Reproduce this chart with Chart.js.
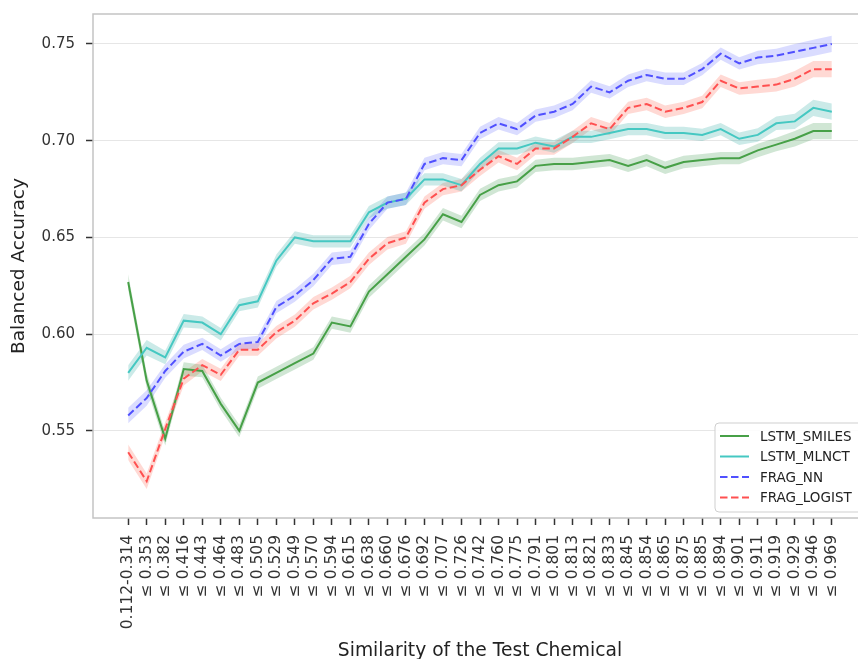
<!DOCTYPE html>
<html>
<head>
<meta charset="utf-8">
<script src="https://cdn.jsdelivr.net/npm/chart.js@4/dist/chart.umd.min.js"></script>
<style>
  html, body { margin: 0; padding: 0; background: #ffffff; overflow: hidden; }
  #wrap { width: 858px; height: 659px; overflow: hidden; }
</style>
</head>
<body>
<div id="wrap"><canvas id="chart" width="868" height="659"></canvas></div>
<script>
// Similarity bins of the test chemical (x-axis tick labels)
const similarityBins = [
  '0.112-0.314', '≤ 0.353', '≤ 0.382', '≤ 0.416', '≤ 0.443', '≤ 0.464', '≤ 0.483',
  '≤ 0.505', '≤ 0.529', '≤ 0.549', '≤ 0.570', '≤ 0.594', '≤ 0.615', '≤ 0.638',
  '≤ 0.660', '≤ 0.676', '≤ 0.692', '≤ 0.707', '≤ 0.726', '≤ 0.742', '≤ 0.760',
  '≤ 0.775', '≤ 0.791', '≤ 0.801', '≤ 0.813', '≤ 0.821', '≤ 0.833', '≤ 0.845',
  '≤ 0.854', '≤ 0.865', '≤ 0.875', '≤ 0.885', '≤ 0.894', '≤ 0.901', '≤ 0.911',
  '≤ 0.919', '≤ 0.929', '≤ 0.946', '≤ 0.969'
];

// Balanced accuracy per bin
const lstmSmiles = [
  0.627, 0.576, 0.546, 0.582, 0.581, 0.564, 0.550, 0.575, 0.580, 0.585,
  0.590, 0.606, 0.604, 0.622, 0.631, 0.640, 0.649, 0.662, 0.658, 0.672,
  0.677, 0.679, 0.687, 0.688, 0.688, 0.689, 0.690, 0.687, 0.690, 0.686,
  0.689, 0.690, 0.691, 0.691, 0.695, 0.698, 0.701, 0.705, 0.705
];
const lstmMlnct = [
  0.580, 0.593, 0.588, 0.607, 0.606, 0.600, 0.615, 0.617, 0.638, 0.650,
  0.648, 0.648, 0.648, 0.663, 0.668, 0.670, 0.680, 0.680, 0.677, 0.688,
  0.696, 0.696, 0.699, 0.697, 0.702, 0.702, 0.704, 0.706, 0.706, 0.704,
  0.704, 0.703, 0.706, 0.701, 0.703, 0.709, 0.710, 0.717, 0.715
];
const fragNN = [
  0.558, 0.567, 0.581, 0.591, 0.595, 0.589, 0.595, 0.596, 0.614, 0.620,
  0.628, 0.639, 0.640, 0.657, 0.668, 0.670, 0.688, 0.691, 0.690, 0.704,
  0.709, 0.706, 0.713, 0.715, 0.719, 0.728, 0.725, 0.731, 0.734, 0.732,
  0.732, 0.737, 0.745, 0.740, 0.743, 0.744, 0.746, 0.748, 0.750
];
const fragLogist = [
  0.539, 0.524, 0.551, 0.577, 0.584, 0.579, 0.592, 0.592, 0.601, 0.607,
  0.616, 0.621, 0.627, 0.639, 0.647, 0.650, 0.668, 0.675, 0.677, 0.685,
  0.692, 0.688, 0.696, 0.696, 0.702, 0.709, 0.706, 0.717, 0.719, 0.715,
  0.717, 0.720, 0.731, 0.727, 0.728, 0.729, 0.732, 0.737, 0.737
];

// Half-width of the shaded confidence band per bin
const ciHalfWidth = [
  0.0040, 0.0040, 0.0035, 0.0035, 0.0032, 0.0032, 0.0032, 0.0032, 0.0032, 0.0032,
  0.0032, 0.0032, 0.0032, 0.0032, 0.0032, 0.0032, 0.0032, 0.0032, 0.0032, 0.0032,
  0.0032, 0.0032, 0.0032, 0.0032, 0.0032, 0.0032, 0.0032, 0.0032, 0.0032, 0.0032,
  0.0032, 0.0032, 0.0032, 0.0032, 0.0035, 0.0035, 0.0040, 0.0042, 0.0042
];

const yTickValues = [0.55, 0.60, 0.65, 0.70, 0.75];

const series = [
  { label: 'LSTM_SMILES', values: lstmSmiles, color: '#47a047', band: 'rgba(40,140,60,0.22)',  dash: [] },
  { label: 'LSTM_MLNCT',  values: lstmMlnct,  color: '#45c8c2', band: 'rgba(20,160,150,0.22)', dash: [] },
  { label: 'FRAG_NN',     values: fragNN,     color: '#5050ff', band: 'rgba(70,80,255,0.20)',  dash: [7.5, 3.5] },
  { label: 'FRAG_LOGIST', values: fragLogist, color: '#ff5050', band: 'rgba(255,80,60,0.22)',  dash: [7.5, 3.5] }
];

const toPoints = arr => arr.map((v, i) => ({ x: i, y: v }));

const datasets = [];
series.forEach((s, k) => {
  // lower edge of the band
  datasets.push({
    label: s.label + ' lower',
    isBand: true,
    data: toPoints(s.values.map((v, i) => v - ciHalfWidth[i])),
    borderWidth: 0,
    pointRadius: 0,
    fill: false,
    order: 20 + k
  });
  // upper edge, filled down to the lower edge
  datasets.push({
    label: s.label + ' upper',
    isBand: true,
    data: toPoints(s.values.map((v, i) => v + ciHalfWidth[i])),
    borderWidth: 0,
    pointRadius: 0,
    backgroundColor: s.band,
    fill: '-1',
    order: 20 + k
  });
  // mean line
  datasets.push({
    label: s.label,
    isBand: false,
    data: toPoints(s.values),
    borderColor: s.color,
    borderWidth: 2,
    borderDash: s.dash,
    pointRadius: 0,
    fill: false,
    order: 3 - k
  });
});

// Axes frame: all four spines
const framePlugin = {
  id: 'frame',
  afterDraw(chart) {
    const { ctx, chartArea: a } = chart;
    ctx.save();
    ctx.strokeStyle = '#c4c4c4';
    ctx.lineWidth = 1.5;
    ctx.strokeRect(a.left, a.top, a.right - a.left, a.bottom - a.top);
    ctx.restore();
  }
};

// Legend box in the lower right corner
const legendPlugin = {
  id: 'cornerLegend',
  afterDraw(chart) {
    const { ctx } = chart;
    const lines = chart.data.datasets.filter(d => !d.isBand);
    const x0 = 715, y0 = 423, w = 147, h = 89, r = 4;
    ctx.save();
    ctx.beginPath();
    ctx.moveTo(x0 + r, y0);
    ctx.lineTo(x0 + w - r, y0);
    ctx.arcTo(x0 + w, y0, x0 + w, y0 + r, r);
    ctx.lineTo(x0 + w, y0 + h - r);
    ctx.arcTo(x0 + w, y0 + h, x0 + w - r, y0 + h, r);
    ctx.lineTo(x0 + r, y0 + h);
    ctx.arcTo(x0, y0 + h, x0, y0 + h - r, r);
    ctx.lineTo(x0, y0 + r);
    ctx.arcTo(x0, y0, x0 + r, y0, r);
    ctx.closePath();
    ctx.fillStyle = 'rgba(255,255,255,0.85)';
    ctx.fill();
    ctx.strokeStyle = '#cfcfcf';
    ctx.lineWidth = 1;
    ctx.stroke();

    ctx.font = '13.5px "DejaVu Sans"';
    ctx.textBaseline = 'middle';
    ctx.fillStyle = '#222222';
    lines.forEach((d, i) => {
      const cy = y0 + 13 + i * 20.5;
      ctx.beginPath();
      ctx.setLineDash(d.borderDash || []);
      ctx.strokeStyle = d.borderColor;
      ctx.lineWidth = 2;
      ctx.moveTo(720, cy);
      ctx.lineTo(749, cy);
      ctx.stroke();
      ctx.setLineDash([]);
      ctx.fillText(d.label, 760, cy + 1);
    });
    ctx.restore();
  }
};

Chart.defaults.font.family = '"DejaVu Sans", sans-serif';
Chart.defaults.color = '#333333';

new Chart(document.getElementById('chart'), {
  type: 'line',
  data: { datasets },
  options: {
    responsive: false,
    animation: false,
    devicePixelRatio: 1,
    layout: { padding: { top: 14, left: 0, right: 1, bottom: 0 } },
    elements: { line: { tension: 0 } },
    plugins: {
      legend: { display: false },
      tooltip: { enabled: false },
      filler: { propagate: false }
    },
    scales: {
      x: {
        type: 'linear',
        min: -1.9,
        max: 39.9,
        afterBuildTicks(scale) {
          scale.ticks = similarityBins.map((_, i) => ({ value: i }));
        },
        afterFit(scale) {
          scale.height = 141;
          scale.paddingLeft = 0;
          scale.paddingRight = 0;
        },
        ticks: {
          autoSkip: false,
          minRotation: 90,
          maxRotation: 90,
          padding: 10,
          color: '#333333',
          font: { size: 15.5 },
          callback: (v) => similarityBins[v]
        },
        grid: {
          drawOnChartArea: false,
          drawTicks: true,
          tickLength: 7,
          tickColor: '#333333',
          tickWidth: 1.5
        },
        border: { display: false },
        title: {
          display: true,
          text: 'Similarity of the Test Chemical',
          color: '#222222',
          font: { size: 18.7, lineHeight: 0.8 },
          padding: { top: 0, bottom: 0 }
        }
      },
      y: {
        type: 'linear',
        min: 0.505,
        max: 0.7655,
        afterBuildTicks(scale) {
          scale.ticks = yTickValues.map(v => ({ value: v }));
        },
        afterFit(scale) {
          scale.width = 93;
          scale.paddingTop = 0;
          scale.paddingBottom = 0;
        },
        ticks: {
          padding: 11,
          color: '#333333',
          font: { size: 15 },
          callback: (v) => Number(v).toFixed(2)
        },
        grid: {
          color: '#e6e6e6',
          lineWidth: 1,
          drawTicks: true,
          tickLength: 7,
          tickColor: '#333333',
          tickWidth: 1.5
        },
        border: { display: false },
        title: {
          display: true,
          text: 'Balanced Accuracy',
          color: '#222222',
          font: { size: 18.5 },
          padding: { top: 8, bottom: 0 }
        }
      }
    }
  },
  plugins: [framePlugin, legendPlugin]
});
</script>
</body>
</html>
